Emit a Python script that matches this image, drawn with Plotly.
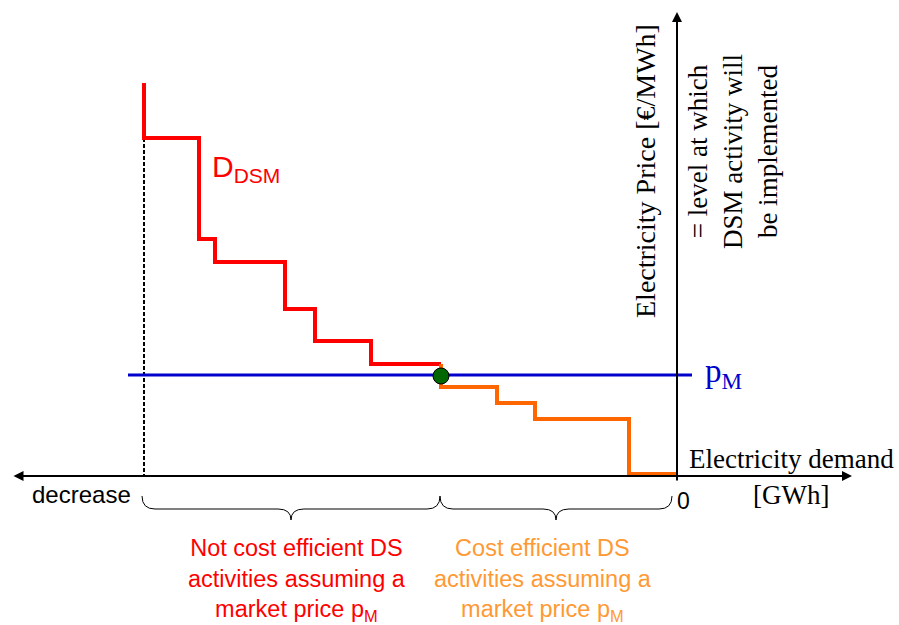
import plotly.graph_objects as go

# ---- data (demand in arbitrary GWh units, 0 at the price axis; price in arbitrary €/MWh units)
red_x = [-53.3, -47.8, -46.2, -39.2, -36.2, -30.6, -23.6]
red_y = [39.3, 33.8, 23.7, 21.4, 16.7, 13.5, 11.2]
orange_x = [-23.6, -18.0, -14.2, -4.8, 0.0]
orange_y = [11.2, 8.9, 7.3, 5.7, 0.2]
market_price = 10.1
pm_line_x = [-54.9, 1.5]
equilibrium_x = [-23.6]
equilibrium_y = [10.0]
dsm_start_x = -53.3
dsm_start_y = 33.8

RED = "#FF0000"
ORANGE = "#FF6600"
ORANGE_TXT = "#FF9933"
BLUE = "#0000CC"
SERIF = "Liberation Serif, Times New Roman, serif"
SANS = "Liberation Sans, Arial, sans-serif"

fig = go.Figure()

# dashed vertical line from first step down to axis
fig.add_trace(go.Scatter(x=[dsm_start_x, dsm_start_x], y=[dsm_start_y, 0], mode="lines",
                         line=dict(color="black", width=2, dash="4px,2px"), hoverinfo="skip"))
# red step (not cost efficient)
fig.add_trace(go.Scatter(x=red_x, y=red_y, mode="lines", line_shape="vh",
                         line=dict(color=RED, width=4), hoverinfo="skip"))
# orange step (cost efficient)
fig.add_trace(go.Scatter(x=orange_x, y=orange_y, mode="lines", line_shape="vh",
                         line=dict(color=ORANGE, width=4), hoverinfo="skip"))
# market price line
fig.add_trace(go.Scatter(x=pm_line_x, y=[market_price, market_price], mode="lines",
                         line=dict(color=BLUE, width=3), hoverinfo="skip"))
# equilibrium dot
fig.add_trace(go.Scatter(x=equilibrium_x, y=equilibrium_y, mode="markers",
                         marker=dict(color="#006600", size=16, line=dict(color="black", width=1)),
                         hoverinfo="skip"))

# axes with arrows
fig.add_annotation(x=17.5, y=0, ax=-66.5, ay=0, xref="x", yref="y", axref="x", ayref="y",
                   text="", showarrow=True, arrowhead=2, arrowside="end+start",
                   arrowwidth=2, arrowsize=1, arrowcolor="black")
fig.add_annotation(x=0, y=46.4, ax=0, ay=-0.6, xref="x", yref="y", axref="x", ayref="y",
                   text="", showarrow=True, arrowhead=2, arrowwidth=2, arrowsize=1,
                   arrowcolor="black")


def brace(x0, x1, y_top, y_mid, y_tip, d=1.3):
    xm = (x0 + x1) / 2
    return (f"M {x0},{y_top} Q {x0},{y_mid} {x0+d},{y_mid} L {xm-d},{y_mid} "
            f"Q {xm},{y_mid} {xm},{y_tip} Q {xm},{y_mid} {xm+d},{y_mid} "
            f"L {x1-d},{y_mid} Q {x1},{y_mid} {x1},{y_top}")


fig.add_shape(type="path", path=brace(-53.5, -23.7, -2.0, -3.3, -4.4),
              xref="x", yref="y", line=dict(color="black", width=1))
fig.add_shape(type="path", path=brace(-23.7, -0.5, -2.0, -3.3, -4.4),
              xref="x", yref="y", line=dict(color="black", width=1))

# texts
fig.add_annotation(x=-3.2, y=30.5, text="Electricity Price [€/MWh]", textangle=-90,
                   showarrow=False, font=dict(family=SERIF, size=28, color="black"))
fig.add_annotation(x=5.6, y=32.4, text="= level at which<br>DSM activity will<br>be implemented",
                   textangle=-90, showarrow=False, align="center",
                   font=dict(family=SERIF, size=27, color="black"))
fig.add_annotation(x=11.4, y=1.7, text="Electricity demand", showarrow=False,
                   font=dict(family=SERIF, size=27, color="black"))
fig.add_annotation(x=11.4, y=-1.9, text="[GWh]", showarrow=False,
                   font=dict(family=SERIF, size=27, color="black"))
fig.add_annotation(x=0.6, y=-2.5, text="0", showarrow=False,
                   font=dict(family=SANS, size=23, color="black"))
fig.add_annotation(x=-59.6, y=-1.8, text="decrease", showarrow=False,
                   font=dict(family=SANS, size=24, color="black"))
fig.add_annotation(x=-46.7, y=30.8, xanchor="left", text="D<sub>DSM</sub>", showarrow=False,
                   font=dict(family=SANS, size=30, color=RED))
fig.add_annotation(x=2.6, y=10.3, xanchor="left", text="p<sub>M</sub>", showarrow=False,
                   font=dict(family=SERIF, size=33, color=BLUE))
fig.add_annotation(x=-38.0, y=-10.4,
                   text="Not cost efficient DS<br>activities assuming a<br>market price p<sub>M</sub>",
                   showarrow=False, align="center", font=dict(family=SANS, size=23.5, color=RED))
fig.add_annotation(x=-13.45, y=-10.4,
                   text="Cost efficient DS<br>activities assuming a<br>market price p<sub>M</sub>",
                   showarrow=False, align="center", font=dict(family=SANS, size=23.5, color=ORANGE_TXT))

fig.update_layout(
    width=899, height=625, margin=dict(l=0, r=0, t=0, b=0),
    paper_bgcolor="white", plot_bgcolor="white", showlegend=False,
    xaxis=dict(range=[-67.7, 22.2], visible=False, fixedrange=True),
    yaxis=dict(range=[-14.9, 47.6], visible=False, fixedrange=True),
)

# remove the default page margin so the figure sits at the window's top-left corner
fig.write_html("out.html", config={"displayModeBar": False},
               post_script="document.body.style.margin='0px';document.body.style.overflow='hidden';")
